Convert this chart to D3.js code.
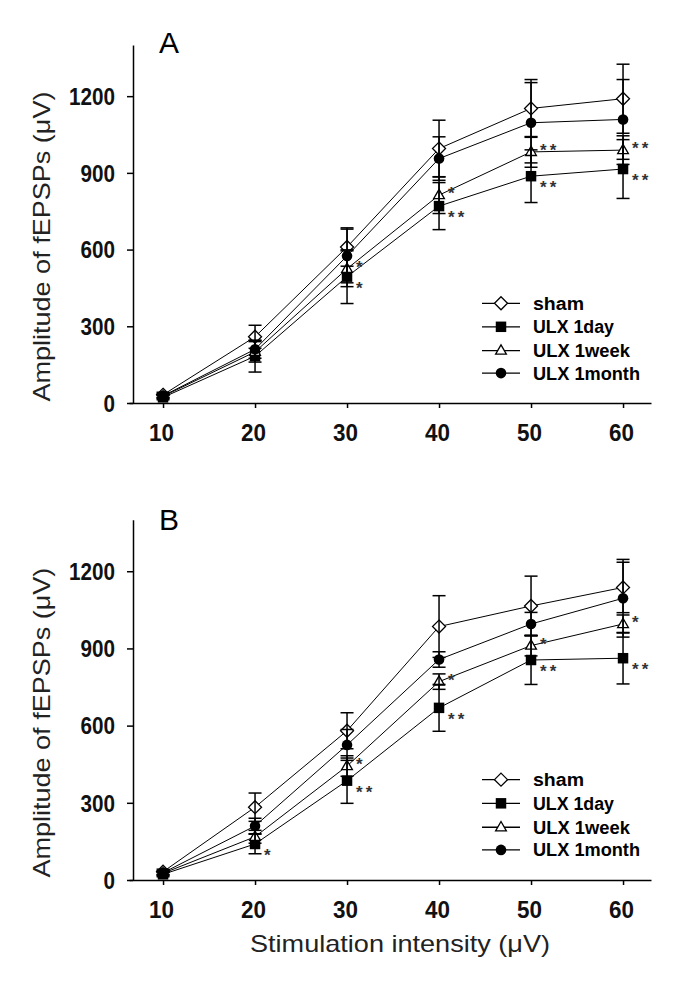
<!DOCTYPE html>
<html><head><meta charset="utf-8">
<script src="https://cdn.jsdelivr.net/npm/d3@7"></script>
<style>body{margin:0;background:#fff} svg{display:block}</style>
</head><body>
<svg id="c" width="694" height="987"></svg>
<script>
// ---------- data ----------
const intensities = [10, 20, 30, 40, 50, 60];
const seriesNames = ["sham", "ULX 1day", "ULX 1week", "ULX 1month"];
const yTickValues = [0, 300, 600, 900, 1200];
const xTickValues = [10, 20, 30, 40, 50, 60];

// Panel A
const shamA      = [32, 259, 610, 995, 1152, 1190];
const shamAErr   = [10, 45, 75, 111, 113, 135];
const day1A      = [22, 183, 494, 770, 887, 915];
const day1AErr   = [8, 62, 105, 92, 103, 115];
const week1A     = [26, 200, 525, 813, 982, 989];
const week1AErr  = [8, 40, 70, 72, 60, 56];
const month1A    = [28, 210, 575, 956, 1096, 1109];
const month1AErr = [8, 35, 105, 85, 157, 156];

// Panel B
const shamB      = [32, 283, 580, 985, 1065, 1137];
const shamBErr   = [10, 55, 70, 120, 116, 98];
const day1B      = [22, 140, 386, 669, 855, 862];
const day1BErr   = [8, 38, 88, 91, 95, 100];
const week1B     = [26, 168, 443, 771, 911, 995];
const week1BErr  = [8, 25, 40, 30, 40, 35];
const month1B    = [28, 210, 525, 857, 995, 1095];
const month1BErr = [8, 30, 60, 30, 45, 151];

// significance marks: [intensity, series index, text]
const starsA = [[30,2,"*"],[30,1,"*"],[40,2,"*"],[40,1,"**"],[50,2,"**"],[50,1,"**"],[60,2,"**"],[60,1,"**"]];
const starsB = [[20,1,"*"],[30,2,"*"],[30,1,"**"],[40,2,"*"],[40,1,"**"],[50,2,"*"],[50,1,"**"],[60,2,"*"],[60,1,"**"]];

const yTitle = "Amplitude of fEPSPs (\u03BCV)";
const xTitle = "Stimulation intensity (\u03BCV)";

// ---------- drawing ----------
const svg = d3.select("#c");
const FONT = "'Liberation Sans', Arial, Helvetica, sans-serif";

const x = d3.scaleLinear().domain([6.3, 63.04]).range([129, 651]);

const markerKinds = ["diamond", "square", "triangle", "circle"];
const starDy = [0, 7, -6, 0]; // vertical nudge per series (style)
function drawMarker(sel, kind, cx, cy) {
  if (kind === "diamond") {
    sel.append("path").attr("d", `M${cx},${cy-6.5}L${cx+6.5},${cy}L${cx},${cy+6.5}L${cx-6.5},${cy}Z`)
      .attr("fill", "#fff").attr("stroke", "#000").attr("stroke-width", 1.3);
  } else if (kind === "square") {
    sel.append("path").attr("d", d3.symbol(d3.symbolSquare, 110)()).attr("transform", `translate(${cx},${cy})`)
      .attr("fill", "#000");
  } else if (kind === "triangle") {
    sel.append("path").attr("d", d3.symbol(d3.symbolTriangle, 50)()).attr("transform", `translate(${cx},${cy+0.5})`)
      .attr("fill", "#fff").attr("stroke", "#000").attr("stroke-width", 1.3);
  } else {
    sel.append("circle").attr("cx", cx).attr("cy", cy).attr("r", 5.3).attr("fill", "#000");
  }
}

function drawPanel(cfg) {
  const g = svg.append("g");
  const y = d3.scaleLinear().domain([0, 1400]).range([cfg.y0, cfg.y0 - 1400 * cfg.k]);

  // axes
  const yAxis = d3.axisLeft(y).tickValues(yTickValues).tickFormat(d3.format("d"))
    .tickSize(6).tickSizeOuter(0).tickPadding(12);
  const gy = g.append("g").attr("transform", "translate(133,0)").call(yAxis);
  const xAxis = d3.axisBottom(x).tickValues(xTickValues).tickFormat(d3.format("d"))
    .tickSize(5).tickSizeOuter(0).tickPadding(17);
  const gx = g.append("g").attr("transform", `translate(0,${cfg.y0})`).call(xAxis);
  [gx, gy].forEach(a => {
    a.select(".domain").attr("stroke", "#000").attr("stroke-width", 1.5);
    a.selectAll(".tick line").attr("stroke", "#000").attr("stroke-width", 1.5);
    a.selectAll(".tick text").attr("font-family", FONT).attr("font-weight", "bold")
      .attr("font-size", 23).attr("fill", "#111").attr("lengthAdjust", "spacingAndGlyphs");
  });
  gy.selectAll(".tick text").attr("dy", "0.36em").attr("textLength", d => String(d).length * 11.5);
  gx.selectAll(".tick text").attr("dy", "0.71em").attr("dx", -2).attr("textLength", d => String(d).length * 12.5);

  // panel letter
  g.append("text").attr("x", 159).attr("y", cfg.letterY).text(cfg.letter)
    .attr("font-family", FONT).attr("font-size", 30).attr("fill", "#000");

  // y title
  g.append("text").attr("transform", `translate(50,${y(600) - 3}) rotate(-90)`)
    .attr("text-anchor", "middle").attr("font-family", FONT).attr("font-size", 24)
    .attr("fill", "#222").attr("textLength", 310).attr("lengthAdjust", "spacingAndGlyphs").text(yTitle);

  const series = cfg.series;
  // connecting lines
  const line = d3.line().x((d, i) => x(intensities[i])).y(d => y(d));
  series.forEach(s => {
    g.append("path").attr("d", line(s.vals)).attr("fill", "none").attr("stroke", "#000").attr("stroke-width", 1);
  });
  // markers
  series.forEach((s, si) => {
    s.vals.forEach((v, i) => drawMarker(g, markerKinds[si], x(intensities[i]), y(v)));
  });
  // error bars
  series.forEach(s => {
    s.vals.forEach((v, i) => {
      const cx = x(intensities[i]), e = s.err[i];
      const eb = g.append("g").attr("stroke", "#000").attr("stroke-width", 1.5);
      eb.append("line").attr("x1", cx).attr("x2", cx).attr("y1", y(v - e)).attr("y2", y(v + e));
      [v - e, v + e].forEach(t => eb.append("line").attr("x1", cx - 6.5).attr("x2", cx + 6.5).attr("y1", y(t)).attr("y2", y(t)));
    });
  });
  // significance stars
  cfg.stars.forEach(([xi, si, txt]) => {
    const i = intensities.indexOf(xi);
    const v = series[si].vals[i];
    g.append("text").attr("x", x(xi) + 9).attr("y", y(v) + 10 + starDy[si]).text(txt)
      .attr("font-family", FONT).attr("font-weight", "bold").attr("font-size", 17)
      .attr("letter-spacing", 3).attr("fill", "#333");
  });

  // legend
  const legendVals = [390, 298, 205, 117];
  const textLens = [51, 81, 97, 107];
  seriesNames.forEach((name, si) => {
    const ly = y(legendVals[si]);
    g.append("line").attr("x1", 482).attr("x2", 520).attr("y1", ly).attr("y2", ly)
      .attr("stroke", "#000").attr("stroke-width", 1.3);
    drawMarker(g, markerKinds[si], 501, ly);
    g.append("text").attr("x", 533).attr("y", ly + 6.5).text(name)
      .attr("font-family", FONT).attr("font-weight", "bold").attr("font-size", 17.5).attr("fill", "#000")
      .attr("textLength", textLens[si]).attr("lengthAdjust", "spacingAndGlyphs");
  });
}

drawPanel({
  letter: "A", letterY: 53, y0: 403, k: 0.2557,
  series: [
    {vals: shamA, err: shamAErr}, {vals: day1A, err: day1AErr},
    {vals: week1A, err: week1AErr}, {vals: month1A, err: month1AErr}
  ],
  stars: starsA
});
drawPanel({
  letter: "B", letterY: 530, y0: 880, k: 0.2573,
  series: [
    {vals: shamB, err: shamBErr}, {vals: day1B, err: day1BErr},
    {vals: week1B, err: week1BErr}, {vals: month1B, err: month1BErr}
  ],
  stars: starsB
});

// x title
svg.append("text").attr("x", 400).attr("y", 952).attr("text-anchor", "middle")
  .attr("font-family", FONT).attr("font-size", 24).attr("fill", "#222")
  .attr("textLength", 300).attr("lengthAdjust", "spacingAndGlyphs").text(xTitle);
</script>
</body></html>
